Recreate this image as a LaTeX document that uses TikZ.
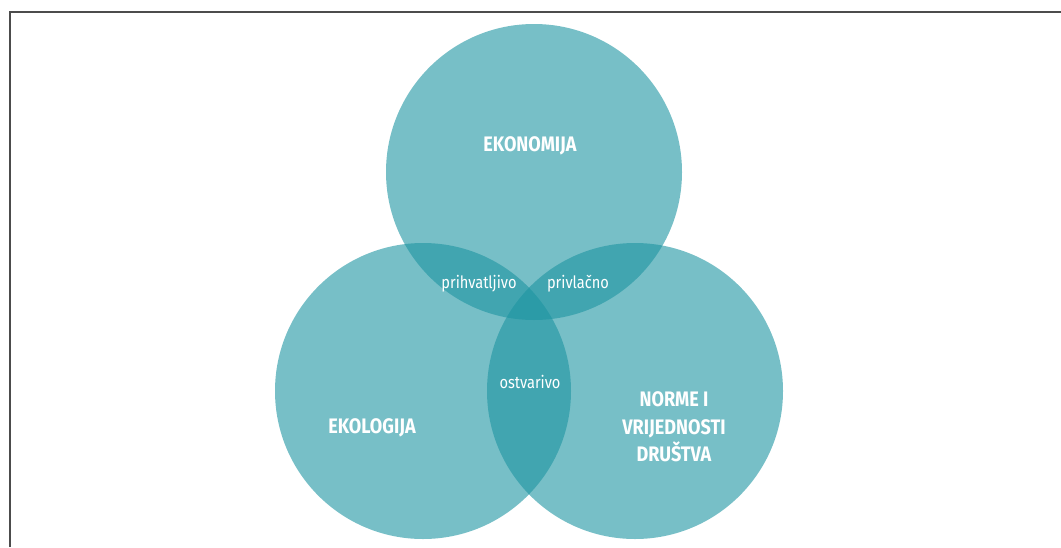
\documentclass[tikz,border=0pt]{standalone}
\usepackage{fontspec}
\setmainfont{Fira Sans}[FakeStretch=0.86]
\definecolor{vennteal}{RGB}{29,148,161}
\tikzset{
  krug/.style={circle, fill=vennteal, fill opacity=0.6, draw=none,
    minimum size=296pt, inner sep=0pt},
  naslov/.style={text=white, font=\fontsize{21}{27.5}\selectfont\bfseries, align=center},
  presjek/.style={text=white, font=\fontsize{17}{20}\selectfont}
}
\begin{document}
\begin{tikzpicture}[x=1pt,y=-1pt]
\useasboundingbox (0,0) rectangle (1061,547);
\draw[line width=2pt, black!70] (9.5,547) -- (9.5,12) -- (1061,12);

\node[krug] (ekonomija) at (534,172) {};
\node[krug] (ekologija) at (423,391) {};
\node[krug] (norme) at (635,391) {};

\node[naslov] (tekonomija) at (530,146) {EKONOMIJA};
\node[naslov] (tekologija) at (372,428) {EKOLOGIJA};
\node[naslov] (tnorme) at (674,427) {NORME I\\VRIJEDNOSTI\\DRUŠTVA};

\node[presjek] (prihvatljivo) at (479,284) {prihvatljivo};
\node[presjek] (privlacno) at (578,284) {privlačno};
\node[presjek] (ostvarivo) at (530,382) {ostvarivo};
\end{tikzpicture}
\end{document}
